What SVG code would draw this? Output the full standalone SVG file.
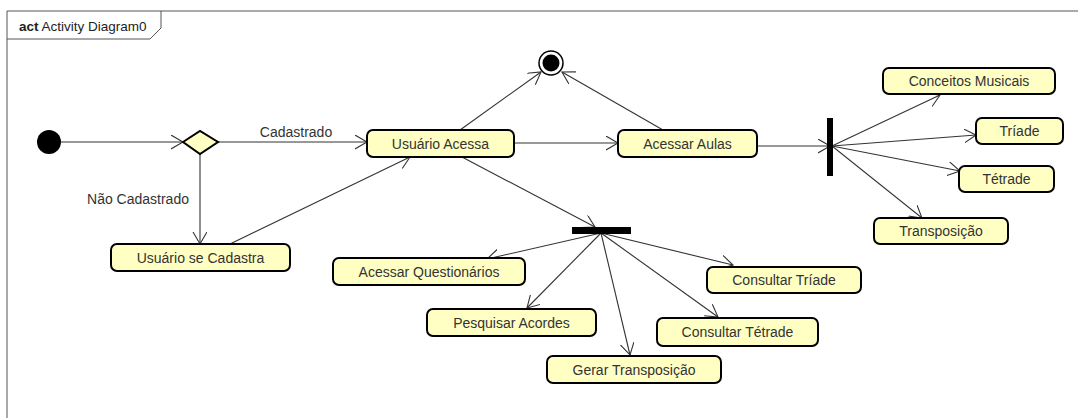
<svg xmlns="http://www.w3.org/2000/svg" width="1078" height="418" viewBox="0 0 1078 418">
<style>
.node rect{fill:#ffffc4;stroke:#000;stroke-width:2}
.node text,.lbl{font-family:"Liberation Sans",Arial,sans-serif;font-size:14px;fill:#333;text-anchor:middle}
.edge{stroke:#333;stroke-width:1.1;fill:none;marker-end:url(#arr)}
</style>
<defs>
<marker id="arr" markerUnits="userSpaceOnUse" markerWidth="14" markerHeight="16" refX="12" refY="7" orient="auto">
<path d="M0,0 L12,7 L0,14" fill="none" stroke="#333" stroke-width="1.1"/>
</marker>
</defs>
<rect width="1078" height="418" fill="#fff"/>
<g id="frame">
<path d="M7,418 V11 H1078" fill="none" stroke="#555" stroke-width="1"/>
<path d="M7,39 H150 L161,28 V11" fill="none" stroke="#555" stroke-width="1"/>
<text x="19" y="31" font-family="'Liberation Sans',Arial,sans-serif" font-size="13.5px" fill="#222"><tspan font-weight="bold">act</tspan> Activity Diagram0</text>
</g>
<g id="connectors">
<line class="edge" x1="61" y1="142" x2="183" y2="142"/>
<line class="edge" x1="218" y1="142" x2="367" y2="142"/>
<line class="edge" x1="200" y1="154" x2="200" y2="244"/>
<line class="edge" x1="230" y1="244" x2="410" y2="157"/>
<line class="edge" x1="460" y1="130" x2="541" y2="72"/>
<line class="edge" x1="663" y1="130" x2="562" y2="72"/>
<line class="edge" x1="514" y1="143" x2="618" y2="143"/>
<line class="edge" x1="757" y1="146" x2="830" y2="146"/>
<line class="edge" x1="832" y1="146" x2="940" y2="95"/>
<line class="edge" x1="832" y1="146" x2="976" y2="135"/>
<line class="edge" x1="832" y1="146" x2="960" y2="171"/>
<line class="edge" x1="832" y1="146" x2="922" y2="218"/>
<line class="edge" x1="462" y1="157" x2="595" y2="227"/>
<line class="edge" x1="601" y1="233" x2="487" y2="259"/>
<line class="edge" x1="601" y1="233" x2="527" y2="308"/>
<line class="edge" x1="601" y1="233" x2="630" y2="355"/>
<line class="edge" x1="601" y1="233" x2="733" y2="265"/>
<line class="edge" x1="601" y1="233" x2="718" y2="317"/>
<text class="lbl" x="296" y="137">Cadastrado</text>
<text class="lbl" x="138" y="204">Não Cadastrado</text>
</g>
<g id="initial"><circle cx="49" cy="142" r="12" fill="#000"/></g>
<g id="decision"><polygon points="183,142 200,131 218,142 200,154" fill="#ffffc4" stroke="#000" stroke-width="2"/></g>
<g id="final"><circle cx="551" cy="63" r="12" fill="#fff" stroke="#000" stroke-width="1.5"/><circle cx="551" cy="63" r="8.5" fill="#000"/></g>
<g id="fork1"><rect x="827" y="118" width="6" height="58" fill="#000"/></g>
<g id="fork2"><rect x="572" y="227" width="59" height="7" fill="#000"/></g>
<g id="n1" class="node"><rect x="111" y="244" width="179" height="27" rx="6"/><text x="200.5" y="262.5">Usuário se Cadastra</text></g>
<g id="n2" class="node"><rect x="367" y="130" width="147" height="27" rx="6"/><text x="440.5" y="148.5">Usuário Acessa</text></g>
<g id="n3" class="node"><rect x="618" y="130" width="139" height="27" rx="6"/><text x="687.5" y="148.5">Acessar Aulas</text></g>
<g id="n4" class="node"><rect x="883" y="68" width="172" height="26" rx="6"/><text x="969" y="86">Conceitos Musicais</text></g>
<g id="n5" class="node"><rect x="976" y="118" width="87" height="26" rx="6"/><text x="1019.5" y="136">Tríade</text></g>
<g id="n6" class="node"><rect x="959" y="166" width="95" height="26" rx="6"/><text x="1006.5" y="184">Tétrade</text></g>
<g id="n7" class="node"><rect x="874" y="218" width="134" height="26" rx="6"/><text x="941" y="236">Transposição</text></g>
<g id="n8" class="node"><rect x="333" y="258" width="192" height="27" rx="6"/><text x="429" y="276.5">Acessar Questionários</text></g>
<g id="n9" class="node"><rect x="427" y="309" width="169" height="27" rx="6"/><text x="511.5" y="327.5">Pesquisar Acordes</text></g>
<g id="n10" class="node"><rect x="547" y="356" width="174" height="27" rx="6"/><text x="634" y="374.5">Gerar Transposição</text></g>
<g id="n11" class="node"><rect x="707" y="267" width="154" height="26" rx="6"/><text x="784" y="285">Consultar Tríade</text></g>
<g id="n12" class="node"><rect x="657" y="318" width="161" height="28" rx="6"/><text x="737.5" y="337">Consultar Tétrade</text></g>
</svg>
